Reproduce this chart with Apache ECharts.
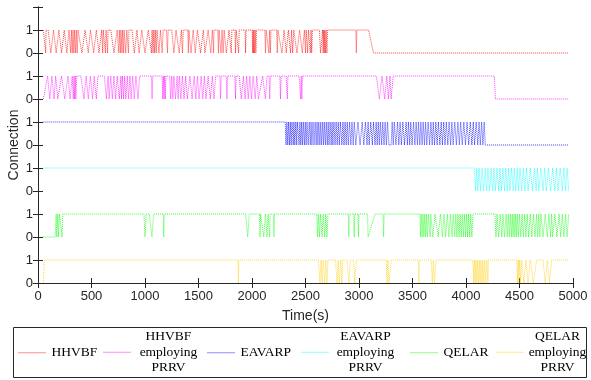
<!DOCTYPE html>
<html><head><meta charset="utf-8">
<script src="https://cdn.jsdelivr.net/npm/echarts@6/dist/echarts.min.js"></script>
<style>html,body{margin:0;padding:0;background:#fff}#c{width:591px;height:380px}</style>
</head><body><div id="c"></div>
<script>
// Series names (legend order) and colours
const seriesNames = ['HHVBF', 'HHVBF employing PRRV', 'EAVARP', 'EAVARP employing PRRV', 'QELAR', 'QELAR employing PRRV'];
const legendLabels = ['HHVBF', 'HHVBF\nemploying\nPRRV', 'EAVARP', 'EAVARP\nemploying\nPRRV', 'QELAR', 'QELAR\nemploying\nPRRV'];
const colors = ['#ff0000', '#ff00ff', '#0000ff', '#00ffff', '#00ff00', '#ffcc00'];
const xTicks = [0, 500, 1000, 1500, 2000, 2500, 3000, 3500, 4000, 4500, 5000];

// Connection state (0/1) over time [t(s), state]
const hhvbf = [[50,1],[68,1],[72,0],[76,1],[95,1],[120,0],[145,1],[170,0],[195,1],[220,0],[245,1],[270,0],[290,1],
[305,0],[312,1],[320,0],[327,1],[335,0],[342,1],[350,0],[358,1],[366,0],[374,1],[390,1],
[410,0],[440,1],[470,0],[490,1],[520,0],[545,1],[570,0],[595,1],
[605,0],[610,1],[625,1],[630,0],[636,1],[650,0],[655,1],[680,1],[710,0],[740,1],
[755,0],[760,1],[770,0],[775,1],[785,0],[790,1],[800,0],[805,1],[820,0],[830,1],[845,0],[850,1],[880,1],
[900,0],[925,1],[945,0],[970,1],[1000,0],[1030,1],[1045,1],
[1060,0],[1066,1],[1075,0],[1082,1],[1090,0],[1096,1],[1105,0],[1112,1],[1130,0],[1145,1],[1160,0],[1170,1],[1200,1],
[1210,0],[1216,1],[1250,1],[1270,0],[1290,1],[1320,0],[1340,1],[1350,0],[1358,1],
[1400,1],[1405,0],[1410,1],[1430,0],[1450,1],[1470,0],[1490,1],[1520,0],[1545,1],
[1560,0],[1590,1],[1615,0],[1630,1],[1640,0],[1645,1],
[1680,1],[1686,0],[1692,1],[1710,0],[1720,1],[1730,0],[1740,1],[1760,0],[1785,1],
[1800,1],[1806,0],[1812,1],[1840,1],[1846,0],[1852,1],[1875,0],[1880,1],
[1935,1],[1940,0],[1945,1],[2002,1],[2006,0],[2010,1],[2014,0],[2018,1],[2024,0],[2030,1],[2036,0],[2042,1],
[2120,1],[2126,0],[2132,1],[2150,1],[2158,0],[2165,1],[2172,0],[2178,1],
[2230,1],[2236,0],[2242,1],[2260,1],[2280,0],[2300,1],[2320,0],[2340,1],
[2360,0],[2370,1],[2380,0],[2390,1],[2420,0],[2445,1],[2470,0],[2490,1],
[2500,0],[2506,1],[2520,0],[2528,1],[2545,0],[2552,1],[2558,0],[2565,1],
[2630,1],[2640,0],[2650,0],[2660,1],[2665,0],[2670,1],[2675,0],[2680,1],[2686,0],[2692,1],[2700,0],[2706,1],
[2970,1],[2975,0],[2980,1],[3090,1],[3135,0],[4960,0]];

const hhvbfPrrv = [[50,0],[90,1],[110,0],[130,1],[150,0],[165,1],[185,0],[200,0],[220,1],[235,1],[250,0],[265,0],[280,1],
[300,0],[320,1],[330,0],[336,1],[342,0],[348,1],[354,0],[360,1],[400,1],[430,0],[450,1],[470,0],[490,1],[510,0],[525,1],
[545,0],[560,1],[620,1],[640,0],[655,1],[665,0],[680,1],[695,0],[710,1],[725,0],[740,1],[760,0],[775,1],[780,0],[790,1],
[800,0],[810,1],[820,0],[835,1],[845,0],[860,1],[870,0],[885,1],[900,0],[915,1],[935,0],[950,1],[1060,1],[1066,0],[1072,1],
[1160,1],[1166,0],[1172,1],[1178,0],[1184,1],[1190,0],[1196,1],[1230,1],[1240,0],[1250,1],[1260,0],[1270,1],[1285,0],[1300,1],
[1310,0],[1320,1],[1335,0],[1350,1],[1365,0],[1380,1],[1395,0],[1420,1],[1440,0],[1460,1],[1475,0],[1490,1],[1505,0],
[1525,1],[1540,0],[1555,1],[1570,0],[1590,1],[1610,0],[1630,1],[1645,0],[1660,1],[1700,1],[1706,0],[1712,1],[1760,1],
[1766,0],[1772,1],[1840,1],[1846,0],[1852,1],[1880,1],[1900,0],[1920,1],[1935,0],[1950,1],[1965,0],[1980,1],[1995,0],
[2010,1],[2030,0],[2045,1],[2060,0],[2100,1],[2125,0],[2140,1],[2160,1],[2166,0],[2172,1],[2260,1],[2266,0],[2272,1],
[2320,1],[2330,0],[2336,1],[2440,1],[2455,0],[2460,1],[2466,0],[2472,1],[3163,1],[3190,0],[3215,1],[3240,0],[3260,1],
[3275,0],[3290,1],[3300,0],[3320,1],[4265,1],[4275,0],[4960,0]];

const eavarp = [[50,1],[2310,1],[2318,0],[2326,1],[2334,0],[2342,1],[2350,0],[2358,1],[2366,0],[2374,1],[2385,0],[2392,1],
[2400,0],[2410,1],[2418,0],[2426,1],[2440,0],[2448,1],[2456,0],[2464,1],[2472,0],[2480,1],[2490,0],[2498,1],[2506,0],
[2514,1],[2525,0],[2535,1],[2545,0],[2552,1],[2560,0],[2570,1],[2580,0],[2590,1],[2600,0],[2608,1],[2616,0],[2624,1],
[2634,0],[2642,1],[2650,0],[2660,1],[2668,0],[2676,1],[2686,0],[2694,1],[2704,0],[2712,1],[2720,0],[2730,1],[2740,0],
[2748,1],[2756,0],[2766,1],[2776,0],[2786,1],[2796,0],[2806,1],[2816,0],[2826,1],[2840,0],[2850,1],[2860,0],[2870,1],
[2880,0],[2890,1],[2900,0],[2912,1],[2924,0],[2934,1],[2946,0],[2956,1],[2970,0],[2990,1],[3010,0],[3030,1],[3045,0],
[3060,1],[3075,0],[3085,1],[3095,0],[3110,1],[3125,0],[3135,1],[3150,0],[3160,1],[3170,0],[3180,1],[3190,0],[3200,1],
[3212,0],[3222,1],[3234,0],[3244,1],[3256,0],[3266,1],[3280,0],[3300,0],[3310,1],[3320,0],[3330,1],[3345,0],[3360,1],
[3372,0],[3384,1],[3396,0],[3410,1],[3425,0],[3440,1],[3452,0],[3462,1],[3474,0],[3484,1],[3496,0],[3510,1],[3522,0],
[3534,1],[3546,0],[3556,1],[3568,0],[3578,1],[3590,0],[3600,1],[3612,0],[3622,1],[3634,0],[3646,1],[3660,0],[3672,1],
[3684,0],[3694,1],[3706,0],[3718,1],[3730,0],[3742,1],[3756,0],[3768,1],[3780,0],[3792,1],[3804,0],[3816,1],[3830,0],
[3842,1],[3856,0],[3868,1],[3880,0],[3895,1],[3910,0],[3924,1],[3938,0],[3950,1],[3965,0],[3980,1],[3995,0],[4010,1],
[4025,0],[4040,1],[4055,0],[4068,1],[4080,0],[4095,1],[4110,0],[4122,1],[4134,0],[4146,1],[4158,0],[4170,1],[4180,0],[4960,0]];

const eavarpPrrv = [[50,1],[4080,1],[4090,0],[4100,1],[4110,0],[4122,1],[4135,0],[4150,1],[4165,0],[4180,1],[4192,0],
[4205,1],[4220,0],[4235,1],[4250,0],[4262,1],[4275,0],[4290,1],[4305,0],[4318,1],[4330,0],[4345,1],[4360,0],[4372,1],
[4385,0],[4398,1],[4410,0],[4425,1],[4440,0],[4452,1],[4465,0],[4478,1],[4490,0],[4505,1],[4520,0],[4535,1],[4550,0],
[4565,1],[4580,0],[4600,1],[4620,0],[4640,1],[4655,0],[4668,1],[4680,0],[4700,1],[4720,0],[4735,1],[4750,0],[4770,1],
[4790,0],[4810,1],[4830,0],[4845,1],[4860,0],[4880,1],[4900,0],[4915,1],[4930,0],[4945,1],[4960,0]];

const qelar = [[50,0],[160,0],[170,1],[175,0],[185,1],[190,0],[200,1],[215,1],[225,0],[232,1],[990,1],[1000,0],[1010,1],
[1040,1],[1065,0],[1080,1],[1170,1],[1175,0],[1180,1],[1940,1],[1960,0],[1975,1],[2070,1],[2075,0],[2080,1],[2095,1],
[2110,0],[2125,1],[2140,0],[2150,1],[2165,0],[2170,1],[2200,1],[2205,0],[2210,1],
[2605,1],[2612,0],[2620,1],[2630,0],[2640,1],[2655,0],[2665,1],[2680,0],[2690,1],[2700,0],[2710,1],
[2900,1],[2905,0],[2910,1],[2950,1],[2955,0],[2960,1],[2990,1],[2995,0],[3000,1],[3080,1],[3085,0],[3150,1],
[3225,1],[3230,0],[3235,1],[3570,1],[3575,0],[3582,1],[3590,0],[3598,1],[3606,0],[3614,1],[3622,0],[3630,1],[3640,0],
[3648,1],[3660,1],[3665,0],[3670,1],[3690,0],[3710,1],[3740,0],[3760,1],[3780,0],[3795,1],[3810,0],[3825,1],[3840,0],
[3855,1],[3870,0],[3880,1],[3895,0],[3905,1],[3915,0],[3925,1],[3935,0],[3945,1],[3955,0],[3965,1],[3975,0],[3985,1],
[3995,0],[4005,1],[4015,0],[4025,1],[4035,0],[4045,1],[4055,0],[4065,1],
[4270,1],[4280,0],[4290,1],[4305,0],[4320,1],[4335,0],[4345,1],[4360,0],[4375,1],[4385,0],[4395,1],[4405,0],[4415,1],
[4425,0],[4432,1],[4440,0],[4448,1],[4456,0],[4464,1],[4472,0],[4480,1],[4490,0],[4500,1],[4512,0],[4524,1],[4536,0],
[4548,1],[4560,0],[4572,1],[4585,0],[4600,1],[4615,0],[4630,1],[4645,0],[4660,1],[4670,0],[4680,1],[4690,0],[4700,1],
[4720,0],[4740,1],[4760,0],[4775,1],[4790,0],[4800,1],[4810,0],[4830,1],[4850,0],[4870,1],[4885,0],[4900,1],[4915,0],
[4930,1],[4945,0],[4960,1]];

const qelarPrrv = [[50,0],[60,1],[1870,1],[1873,0],[1877,1],
[2620,1],[2635,0],[2645,1],[2655,0],[2665,1],[2680,0],[2690,1],[2700,0],[2710,1],
[2780,1],[2795,0],[2805,1],[2815,0],[2830,1],[2840,0],[2848,1],[2890,1],[2905,0],[2920,1],[2950,1],[2960,0],[2975,1],
[3255,1],[3262,0],[3270,1],[3280,0],[3300,1],[3555,1],[3560,0],[3565,1],[3675,1],[3685,0],[3695,1],[3705,0],[3720,1],
[4065,1],[4070,0],[4078,1],[4085,0],[4092,1],[4100,0],[4108,1],[4116,0],[4124,1],[4132,0],[4140,1],[4150,0],[4158,1],
[4166,0],[4175,1],[4185,0],[4195,1],[4205,0],[4210,1],
[4475,1],[4480,0],[4488,1],[4495,0],[4502,1],[4510,0],[4520,1],[4540,0],[4560,1],[4580,0],[4600,1],[4630,0],[4660,1],
[4720,1],[4740,0],[4760,1],[4780,0],[4800,1],[4960,1]];

const allData = [hhvbf, hhvbfPrrv, eavarp, eavarpPrrv, qelar, qelarPrrv];

const chart = echarts.init(document.getElementById('c'));
const axisCol = '#262626';
const series = allData.map((d, i) => {
  const base = 2 * (allData.length - 1 - i);
  return {
    name: seriesNames[i], type: 'line', symbol: 'none', animation: false,
    lineStyle: { color: colors[i], width: 1, type: 'dotted', opacity: 0.75 },
    itemStyle: { color: colors[i] },
    data: d.map(p => [p[0], p[1] + base])
  };
});

// legend: one per item, placed like the reference
const legendLefts = [18, 103, 207, 301, 410, 496];
const legendWidths = [0, 64, 0, 62, 0, 56];
const legends = seriesNames.map((n, i) => {
  const multi = legendLabels[i].indexOf('\n') >= 0;
  return {
    data: [n], left: legendLefts[i], top: multi ? 329 : 345, padding: 0,
    itemWidth: 28, itemHeight: 14, selectedMode: false,
    itemStyle: { opacity: 0 },
    lineStyle: { width: 1, type: [1, 1], opacity: 0.9 },
    formatter: () => multi ? legendLabels[i].split('\n').map(s => '{a|' + s + '}').join('\n') : legendLabels[i],
    textStyle: {
      fontFamily: 'Liberation Serif', fontSize: 13.5, color: '#000', lineHeight: 15.5,
      rich: { a: { fontFamily: 'Liberation Serif', fontSize: 13.5, color: '#000', width: legendWidths[i], align: 'center', lineHeight: 15.5 } }
    }
  };
});

chart.setOption({
  animation: false,
  backgroundColor: '#fff',
  grid: { left: 38, right: 18, top: 7, bottom: 97, outerBoundsMode: 'none', containLabel: false },
  legend: legends,
  graphic: [{ type: 'rect', shape: { x: 13.5, y: 327.5, width: 573, height: 50 }, style: { fill: 'none', stroke: axisCol, lineWidth: 1 } }],
  xAxis: [{
    type: 'value', min: 0, max: 5000, interval: 500, position: 'bottom',
    name: 'Time(s)', nameLocation: 'middle', nameGap: 26, nameMoveOverlap: false,
    nameTextStyle: { fontFamily: 'Liberation Sans', fontSize: 14, color: axisCol },
    axisLine: { lineStyle: { color: axisCol } },
    axisTick: { inside: true, length: 5, lineStyle: { color: axisCol } },
    axisLabel: { fontFamily: 'Liberation Sans', fontSize: 13, color: axisCol, margin: 7, formatter: v => xTicks.includes(v) ? String(v) : '' },
    splitLine: { show: false }
  }, {
    type: 'value', min: 0, max: 5000, interval: 500, position: 'top',
    axisLine: { lineStyle: { color: axisCol } },
    axisTick: { inside: true, length: 5, lineStyle: { color: axisCol } },
    axisLabel: { show: false }, splitLine: { show: false }
  }],
  yAxis: [{
    type: 'value', min: 0, max: 12, interval: 1, position: 'left',
    name: 'Connection', nameLocation: 'middle', nameGap: 17, nameMoveOverlap: false,
    nameTextStyle: { fontFamily: 'Liberation Sans', fontSize: 14, color: axisCol },
    axisLine: { show: true, lineStyle: { color: axisCol } },
    axisTick: { inside: true, length: 5, lineStyle: { color: axisCol } },
    axisLabel: { fontFamily: 'Liberation Sans', fontSize: 13, color: axisCol, margin: 5, formatter: v => v >= 12 ? '' : String(v % 2) },
    splitLine: { show: false }
  }, {
    type: 'value', min: 0, max: 12, interval: 1, position: 'right',
    axisLine: { show: true, lineStyle: { color: axisCol } },
    axisTick: { inside: true, length: 5, lineStyle: { color: axisCol } },
    axisLabel: { show: false }, splitLine: { show: false }
  }],
  series: series
});
</script></body></html>
